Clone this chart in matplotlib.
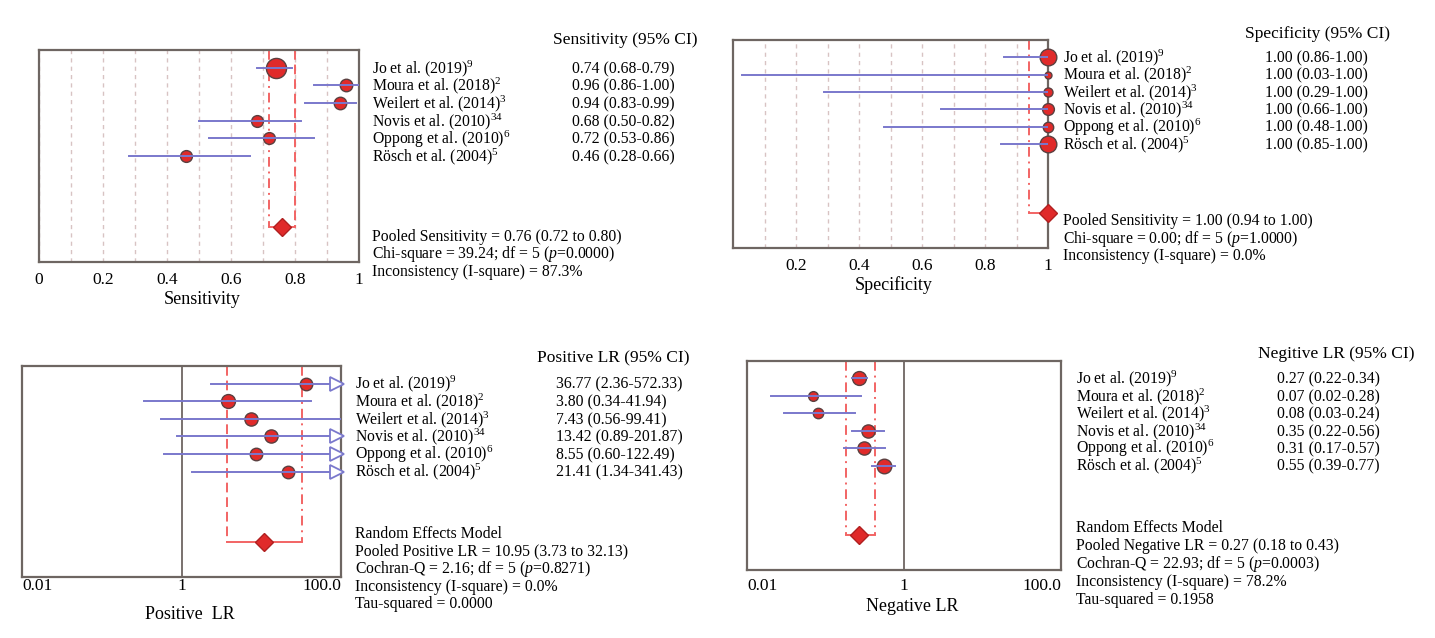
import numpy as np
import matplotlib
matplotlib.use("Agg")
import matplotlib.pyplot as plt
from matplotlib.transforms import blended_transform_factory

W, H = 1435, 638

studies = [
    "Jo et al. (2019)$^{9}$",
    "Moura et al. (2018)$^{2}$",
    "Weilert et al. (2014)$^{3}$",
    "Novis et al. (2010)$^{34}$",
    "Oppong et al. (2010)$^{6}$",
    "Rösch et al. (2004)$^{5}$",
]

sens = [0.74, 0.96, 0.94, 0.68, 0.72, 0.46]
sens_lo = [0.68, 0.86, 0.83, 0.50, 0.53, 0.28]
sens_hi = [0.79, 1.00, 0.99, 0.82, 0.86, 0.66]
sens_pooled = [0.76, 0.72, 0.80]

spec = [1.00, 1.00, 1.00, 1.00, 1.00, 1.00]
spec_lo = [0.86, 0.03, 0.29, 0.66, 0.48, 0.85]
spec_hi = [1.00, 1.00, 1.00, 1.00, 1.00, 1.00]
spec_pooled = [1.00, 0.94, 1.00]

plr = [36.77, 3.80, 7.43, 13.42, 8.55, 21.41]
plr_lo = [2.36, 0.34, 0.56, 0.89, 0.60, 1.34]
plr_hi = [572.33, 41.94, 99.41, 201.87, 122.49, 341.43]
plr_pooled = [10.95, 3.73, 32.13]

nlr = [0.27, 0.07, 0.08, 0.35, 0.31, 0.55]
nlr_lo = [0.22, 0.02, 0.03, 0.22, 0.17, 0.39]
nlr_hi = [0.34, 0.28, 0.24, 0.56, 0.57, 0.77]
nlr_pooled = [0.27, 0.18, 0.43]

sens_summary = [
    "Pooled Sensitivity = 0.76 (0.72 to 0.80)",
    "Chi-square = 39.24; df = 5 ($p$=0.0000)",
    "Inconsistency (I-square) = 87.3%",
]
spec_summary = [
    "Pooled Sensitivity = 1.00 (0.94 to 1.00)",
    "Chi-square = 0.00; df = 5 ($p$=1.0000)",
    "Inconsistency (I-square) = 0.0%",
]
plr_summary = [
    "Random Effects Model",
    "Pooled Positive LR = 10.95 (3.73 to 32.13)",
    "Cochran-Q = 2.16; df = 5 ($p$=0.8271)",
    "Inconsistency (I-square) = 0.0%",
    "Tau-squared = 0.0000",
]
nlr_summary = [
    "Random Effects Model",
    "Pooled Negative LR = 0.27 (0.18 to 0.43)",
    "Cochran-Q = 22.93; df = 5 ($p$=0.0003)",
    "Inconsistency (I-square) = 78.2%",
    "Tau-squared = 0.1958",
]

# marker sizes (study weights), in points
sens_ms = [14.5, 9, 9, 8.5, 8.5, 8.5]
spec_ms = [12, 5, 6.5, 8.5, 7.5, 12]
plr_ms = [9, 10, 9.5, 9.5, 9, 9]
nlr_ms = [10, 7, 7.5, 9.5, 9.5, 10.5]

RED = "#e02a2a"
EDGE = "#5b4040"
BLUE = "#7a78cc"
PINK = "#f26464"
SPINE = "#6e6662"
GRID = "#d8c3c3"

DASH = (0, (5, 2.5))
DASHDOT = (0, (5, 2.5, 1, 2.5))


def rect(x0, y0, x1, y1):
    return [x0 / W, 1 - y1 / H, (x1 - x0) / W, (y1 - y0) / H]


def forest(ax, est, lo, hi, ms, pooled, left_ls, right_ls):
    rows = np.arange(1, len(est) + 1)
    ax.set_ylim(12, 0)
    ax.set_yticks([])
    for r, e, l, h, s in zip(rows, est, lo, hi, ms):
        ax.plot(e, r, "o", ms=s, mfc=RED, mec=EDGE, mew=1, zorder=4, clip_on=False)
        ax.plot([l, h], [r, r], color=BLUE, lw=1.4, zorder=5)
    p, plo, phi = pooled
    ax.plot([plo, plo], [0, 10], color=PINK, ls=left_ls, lw=1.4, zorder=2)
    ax.plot([phi, phi], [0, 10], color=PINK, ls=right_ls, lw=1.4, zorder=2)
    ax.plot([plo, phi], [10, 10], color=PINK, lw=1.4, zorder=2)
    ax.plot(p, 10, "D", ms=9, mfc=RED, mec="#b02020", mew=1, zorder=6, clip_on=False)
    for s in ax.spines.values():
        s.set_color(SPINE)
        s.set_linewidth(1.6)
    ax.tick_params(axis="x", length=0, labelsize=12.5)


def side_text(fig, ax, x_lab, x_val, values, lo, hi, header, x_head, y_head,
              summary, y_sum, step):
    tr = blended_transform_factory(fig.transFigure, ax.transData)
    for i, (name, e, l, h) in enumerate(zip(studies, values, lo, hi)):
        r = i + 1 + 0.3
        ax.text(x_lab / W, r, name, transform=tr, fontsize=11.3, va="baseline")
        ax.text(x_val / W, r, f"{e:.2f} ({l:.2f}-{h:.2f})", transform=tr,
                fontsize=11.3, va="baseline")
    ax.text(x_head / W, y_head, header, transform=tr, fontsize=12.5, va="center")
    for i, line in enumerate(summary):
        ax.text(x_lab / W, y_sum + i * step + 0.3, line, transform=tr,
                fontsize=11.3, va="baseline")


def main():
    plt.rcParams["font.family"] = ["Liberation Serif", "DejaVu Serif"]
    plt.rcParams["mathtext.fontset"] = "custom"
    plt.rcParams["mathtext.rm"] = "Liberation Serif"
    plt.rcParams["mathtext.it"] = "Liberation Serif:italic"

    fig = plt.figure(figsize=(W / 100, H / 100), dpi=100)

    # Sensitivity
    ax1 = fig.add_axes(rect(39, 50, 359, 262))
    ax1.set_xlim(0, 1)
    ax1.set_xticks(np.arange(0, 1.01, 0.2))
    ax1.set_xticklabels(["0", "0.2", "0.4", "0.6", "0.8", "1"])
    ax1.set_xticks(np.arange(0.1, 1.0, 0.2), minor=True)
    ax1.tick_params(axis="x", which="minor", length=0)
    ax1.grid(axis="x", which="both", color=GRID, ls=(0, (3, 3)), lw=1, zorder=1)
    forest(ax1, sens, sens_lo, sens_hi, sens_ms, sens_pooled, DASHDOT, DASH)
    ax1.tick_params(axis="x", pad=7)
    ax1.set_xlabel("Sensitivity", fontsize=13)
    ax1.xaxis.set_label_coords(0.51, -0.175)
    ax1.xaxis.label.set_va("center")
    side_text(fig, ax1, 372, 572, sens, sens_lo, sens_hi, "Sensitivity (95% CI)",
              553, -0.57, sens_summary, 10.5, 1.0)

    # Specificity
    ax2 = fig.add_axes(rect(733, 40, 1048, 248))
    ax2.set_xlim(0, 1)
    ax2.set_xticks(np.arange(0.2, 1.01, 0.2))
    ax2.set_xticklabels(["0.2", "0.4", "0.6", "0.8", "1"])
    ax2.set_xticks(np.arange(0.1, 1.0, 0.2), minor=True)
    ax2.tick_params(axis="x", which="minor", length=0)
    ax2.grid(axis="x", which="both", color=GRID, ls=(0, (3, 3)), lw=1, zorder=1)
    forest(ax2, spec, spec_lo, spec_hi, spec_ms, spec_pooled, DASHDOT, DASHDOT)
    ax2.tick_params(axis="x", pad=7)
    ax2.set_xlabel("Specificity", fontsize=13)
    ax2.xaxis.set_label_coords(0.51, -0.178)
    ax2.xaxis.label.set_va("center")
    side_text(fig, ax2, 1063, 1265, spec, spec_lo, spec_hi, "Specificity (95% CI)",
              1245, -0.36, spec_summary, 10.4, 1.0)

    # Positive LR
    ax3 = fig.add_axes(rect(22, 366, 341, 577))
    ax3.set_xscale("log")
    ax3.set_xlim(0.01, 100)
    ax3.axvline(1, color=SPINE, lw=1.3, zorder=1)
    forest(ax3, plr, plr_lo, plr_hi, plr_ms, plr_pooled, DASH, DASHDOT)
    tr3 = blended_transform_factory(ax3.transAxes, ax3.transData)
    for r, h in enumerate(plr_hi, start=1):
        if h > 100:
            ax3.plot(0.987, r, ">", ms=10, mfc="white", mec=BLUE, mew=1.3,
                     transform=tr3, clip_on=False, zorder=6)
    ax3.set_xticks([0.01, 1, 100])
    ax3.set_xticklabels(["0.01", "1", "100.0"])
    ax3.xaxis.set_minor_locator(matplotlib.ticker.NullLocator())
    ax3.tick_params(axis="x", pad=1)
    lbls = ax3.get_xticklabels()
    lbls[0].set_ha("left")
    lbls[-1].set_ha("right")
    ax3.set_xlabel("Positive  LR", fontsize=13)
    ax3.xaxis.set_label_coords(0.527, -0.18)
    ax3.xaxis.label.set_va("center")
    side_text(fig, ax3, 355, 556, plr, plr_lo, plr_hi, "Positive LR (95% CI)",
              537, -0.42, plr_summary, 9.47, 1.0)

    # Negative LR
    ax4 = fig.add_axes(rect(747, 361, 1061, 570))
    ax4.set_xscale("log")
    ax4.set_xlim(0.01, 100)
    ax4.axvline(1, color=SPINE, lw=1.3, zorder=1)
    forest(ax4, nlr, nlr_lo, nlr_hi, nlr_ms, nlr_pooled, DASHDOT, DASHDOT)
    ax4.set_xticks([0.01, 1, 100])
    ax4.set_xticklabels(["0.01", "1", "100.0"])
    ax4.xaxis.set_minor_locator(matplotlib.ticker.NullLocator())
    ax4.tick_params(axis="x", pad=6)
    lbls = ax4.get_xticklabels()
    lbls[0].set_ha("left")
    lbls[-1].set_ha("right")
    ax4.set_xlabel("Negative LR", fontsize=13)
    ax4.xaxis.set_label_coords(0.525, -0.177)
    ax4.xaxis.label.set_va("center")
    side_text(fig, ax4, 1076, 1277, nlr, nlr_lo, nlr_hi, "Negitive LR (95% CI)",
              1258, -0.4, nlr_summary, 9.54, 1.03)

    fig.savefig("out.png", dpi=100)


if __name__ == "__main__":
    main()
